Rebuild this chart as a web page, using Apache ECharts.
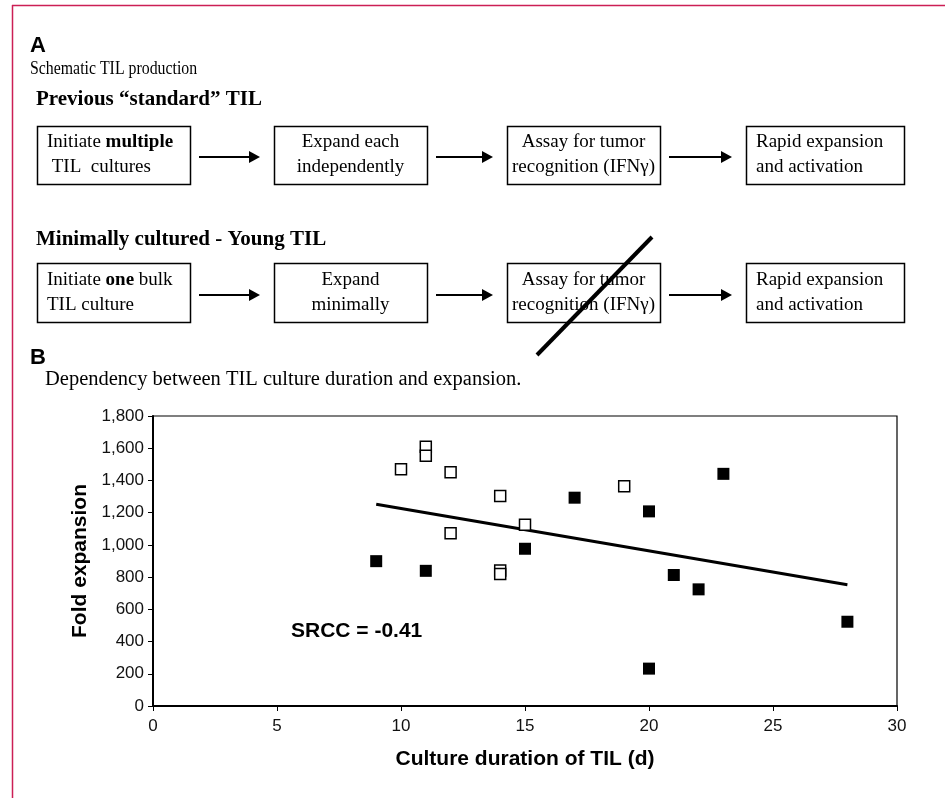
<!DOCTYPE html>
<html><head><meta charset="utf-8">
<script src="https://cdn.jsdelivr.net/npm/echarts@6/dist/echarts.min.js"></script>
<style>html,body{margin:0;padding:0;background:#fff}#c{width:945px;height:798px}</style>
</head><body><div id="c"></div>
<script>
// ---- data ----
const openX = [10, 11, 11, 12, 12, 14, 14, 14, 15, 19];
const openY = [1470, 1609, 1553, 1451, 1073, 1304, 841, 820, 1125, 1364];
const filledX = [9, 11, 15, 17, 20, 20, 21, 22, 23, 28];
const filledY = [899, 839, 976, 1293, 1208, 232, 813, 724, 1441, 523];
const trendX = [9, 28];
const trendY = [1252, 752];
const xTicks = [0, 5, 10, 15, 20, 25, 30];
const yTicks = [0, 200, 400, 600, 800, 1000, 1200, 1400, 1600, 1800];
const row1Text = ['{n|Initiate }{b|multiple}\n{n| TIL  cultures}', 'Expand each\nindependently', 'Assay for tumor\nrecognition (IFNγ)', 'Rapid expansion\nand activation'];
const row2Text = ['{n|Initiate }{b|one}{n| bulk}\n{n|TIL culture}', 'Expand\nminimally', 'Assay for tumor\nrecognition (IFNγ)', 'Rapid expansion\nand activation'];
const srccLabel = 'SRCC = -0.41';

const serif = "'Liberation Serif','Times New Roman',serif";
const sans = "'Liberation Sans',Arial,sans-serif";

const boxX = [37, 274, 507, 746];
const boxW = [153, 153, 153, 158];
const g = [];
// border
g.push({type:'line', shape:{x1:12, y1:5.5, x2:945, y2:5.5}, style:{stroke:'#cc1f55', lineWidth:1.5}});
g.push({type:'line', shape:{x1:12.5, y1:5, x2:12.5, y2:798}, style:{stroke:'#cc1f55', lineWidth:1.5}});
g.push({type:'text', x:30, y:46, style:{text:'A', font:"bold 22px "+sans, fill:'#000', verticalAlign:'middle'}});
g.push({type:'text', x:30, y:69, scaleX:0.88, style:{text:'Schematic TIL production', font:"18px "+serif, fill:'#000', verticalAlign:'middle'}});
g.push({type:'text', x:36, y:100, style:{text:'Previous \u201cstandard\u201d TIL', font:"bold 21px "+serif, fill:'#000', verticalAlign:'middle'}});
g.push({type:'text', x:36, y:240, style:{text:'Minimally cultured - Young TIL', font:"bold 21px "+serif, fill:'#000', verticalAlign:'middle'}});
function rows(y, h, texts, aligns, arrowY){
  for (let i=0;i<4;i++){
    g.push({type:'rect', shape:{x:boxX[i]+0.5, y:y+0.5, width:boxW[i], height:h}, style:{fill:'#fff', stroke:'#000', lineWidth:1.5}});
    const al = aligns[i];
    g.push({type:'text', x: al==='left' ? boxX[i]+10 : boxX[i]+boxW[i]/2, y:y+h/2,
      style:{text:texts[i], align:al, verticalAlign:'middle', font:"19px "+serif, fill:'#000', lineHeight:25,
        rich:{n:{font:"19px "+serif, lineHeight:25}, b:{font:"bold 19px "+serif, lineHeight:25}}}});
    if (i<3){
      const cy = arrowY;
      const x1 = boxX[i]+boxW[i]+9, x2 = boxX[i+1]-14;
      g.push({type:'line', shape:{x1:x1, y1:cy, x2:x2-8, y2:cy}, style:{stroke:'#000', lineWidth:2}});
      g.push({type:'polygon', shape:{points:[[x2-11,cy-6],[x2,cy],[x2-11,cy+6]]}, style:{fill:'#000'}});
    }
  }
}
rows(126, 58, row1Text, ['left','center','center','left'], 157);
rows(263, 59, row2Text, ['left','center','center','left'], 295);
g.push({type:'line', shape:{x1:652, y1:237, x2:537, y2:355}, style:{stroke:'#000', lineWidth:4}});
g.push({type:'text', x:30, y:358, style:{text:'B', font:"bold 22px "+sans, fill:'#000', verticalAlign:'middle'}});
g.push({type:'text', x:45, y:380, style:{text:'Dependency between TIL culture duration and expansion.', font:"20.5px "+serif, fill:'#000', verticalAlign:'middle'}});
g.push({type:'text', x:291, y:631, z:10, style:{text:srccLabel, font:"bold 21px "+sans, fill:'#000', verticalAlign:'middle'}});

const chart = echarts.init(document.getElementById('c'), null, {renderer:'canvas'});
chart.setOption({
  animation:false,
  backgroundColor:'#fff',
  grid:{left:153, right:48, top:416, bottom:92, show:true, borderColor:'#000', borderWidth:1.2, backgroundColor:'transparent'},
  xAxis:{type:'value', min:xTicks[0], max:xTicks[xTicks.length-1], interval:5,
    name:'Culture duration of TIL (d)', nameLocation:'middle', nameGap:43,
    nameTextStyle:{fontFamily:sans, fontWeight:'bold', fontSize:21, color:'#000'},
    axisLine:{show:true, lineStyle:{color:'#000', width:2}},
    axisTick:{show:true, length:5, lineStyle:{color:'#000'}},
    axisLabel:{fontFamily:sans, fontSize:17, color:'#111', margin:12},
    splitLine:{show:false}},
  yAxis:{type:'value', min:yTicks[0], max:yTicks[yTicks.length-1], interval:200,
    name:'Fold expansion', nameLocation:'middle', nameGap:62, nameRotate:90,
    nameTextStyle:{fontFamily:sans, fontWeight:'bold', fontSize:21, color:'#000'},
    axisLine:{show:true, lineStyle:{color:'#000', width:2}},
    axisTick:{show:true, length:5, lineStyle:{color:'#000'}},
    axisLabel:{fontFamily:sans, fontSize:17, color:'#111', margin:9,
      formatter:v=>v.toLocaleString('en-US')},
    splitLine:{show:false}},
  graphic:g,
  series:[
    {type:'line', data:trendX.map((x,i)=>[x,trendY[i]]), symbol:'none', lineStyle:{color:'#000', width:3}, z:2},
    {type:'scatter', data:openX.map((x,i)=>[x,openY[i]]), symbol:'rect', symbolSize:11,
      itemStyle:{color:'#fff', borderColor:'#000', borderWidth:1.5, opacity:1}, z:3},
    {type:'scatter', data:filledX.map((x,i)=>[x,filledY[i]]), symbol:'rect', symbolSize:12,
      itemStyle:{color:'#000', opacity:1}, z:3}
  ]
});
</script></body></html>
